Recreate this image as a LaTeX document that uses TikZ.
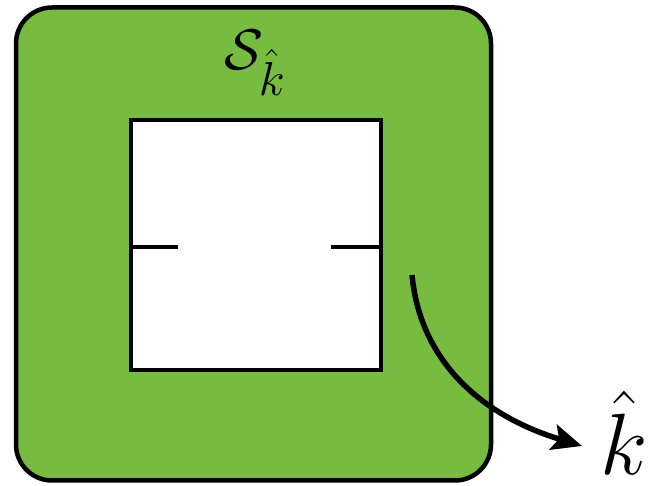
\documentclass[tikz,border=0pt]{standalone}
\usepackage{graphicx}
\usetikzlibrary{arrows.meta}
\definecolor{boxgreen}{HTML}{77BB41}
\begin{document}
\begin{tikzpicture}[x=1pt,y=-1pt,
  frame/.style={line width=4.5pt},
  tick/.style={line width=4pt},
  dirarrow/.style={line width=5.5pt,-{Stealth[length=30pt,width=26pt,inset=6pt]}}]
\useasboundingbox (0,0) rectangle (649,486);
\node[frame,draw=black,fill=boxgreen,rounded corners=36pt,minimum width=475pt,minimum height=473pt,inner sep=0pt] (outer) at (253.5,244) {};
\node[frame,draw=black,fill=white,minimum width=250pt,minimum height=250pt,inner sep=0pt] (inner) at (256,245) {};
\coordinate (lt) at (178,247);
\coordinate (rt) at (331,247);
\draw[tick] (inner.west |- lt) -- (lt);
\draw[tick] (inner.east |- rt) -- (rt);
\node[inner sep=0pt] (S) at (255,63) {\scalebox{2.3}{\Huge$\mathcal{S}_{\hat{k}}$}};
\node[inner sep=0pt] (k) at (624,433) {\scalebox{3.5}{\Huge$\hat{k}$}};
\coordinate (a0) at (412,275);
\coordinate (a1) at (582,446);
\draw[dirarrow] (a0) .. controls (420,360) and (480,415) .. (a1);
\end{tikzpicture}
\end{document}
